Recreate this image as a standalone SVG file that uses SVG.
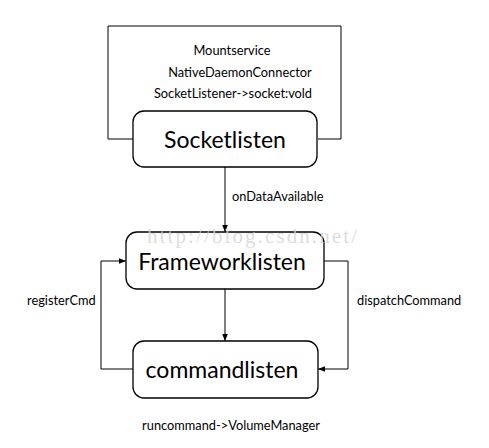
<svg xmlns="http://www.w3.org/2000/svg" width="489" height="448" viewBox="0 0 489 448">
<style>
.box{fill:#fff;stroke:#000;stroke-width:1.3}
.line{fill:none;stroke:#000;stroke-width:1}
.big{font-family:Lato,"Liberation Sans",sans-serif;font-size:23px;fill:#000;text-anchor:middle}
.small{font-family:Lato,"Liberation Sans",sans-serif;font-size:12.8px;fill:#000}
.wm{font-family:"Liberation Serif",serif;font-size:21px;fill:#d4d4d4;fill-opacity:0.8}
</style>
<defs>
<marker id="ah" viewBox="0 0 10 10" refX="10" refY="5" markerWidth="7" markerHeight="7" orient="auto" markerUnits="userSpaceOnUse">
<path d="M0,1 L10,5 L0,9 Z" fill="#000"/>
</marker>
</defs>
<rect width="489" height="448" fill="#fff"/>
<g id="connectors">
<path class="line" d="M133,139 H108 V26 H341 V139 H318"/>
<path class="line" d="M225,167 V232" marker-end="url(#ah)"/>
<path class="line" d="M225,289 V341" marker-end="url(#ah)"/>
<path class="line" d="M133,369 H101 V261 H126" marker-end="url(#ah)"/>
<path class="line" d="M324,261 H348 V369 H318" marker-end="url(#ah)"/>
</g>
<g id="labels">
<text class="small" x="232" y="55" text-anchor="middle">Mountservice</text>
<text class="small" x="240" y="77" text-anchor="middle">NativeDaemonConnector</text>
<text class="small" x="233" y="98" text-anchor="middle">SocketListener-&gt;socket:vold</text>
<text class="small" x="232" y="201">onDataAvailable</text>
<text class="small" x="27" y="305">registerCmd</text>
<text class="small" x="357" y="305">dispatchCommand</text>
<text class="small" x="231" y="430" text-anchor="middle">runcommand-&gt;VolumeManager</text>
</g>
<g id="socketlisten">
<rect class="box" x="133" y="111" width="184" height="56" rx="11"/>
<text class="big" x="225" y="148">Socketlisten</text>
</g>
<g id="frameworklisten">
<rect class="box" x="126" y="232" width="198" height="57" rx="11"/>
<text class="big" x="222" y="270">Frameworklisten</text>
</g>
<g id="commandlisten">
<rect class="box" x="133" y="341" width="185" height="57" rx="11"/>
<text class="big" x="222" y="378">commandlisten</text>
</g>
<text class="wm" x="147" y="243" textLength="210" lengthAdjust="spacing">http://blog.csdn.net/</text>
</svg>
